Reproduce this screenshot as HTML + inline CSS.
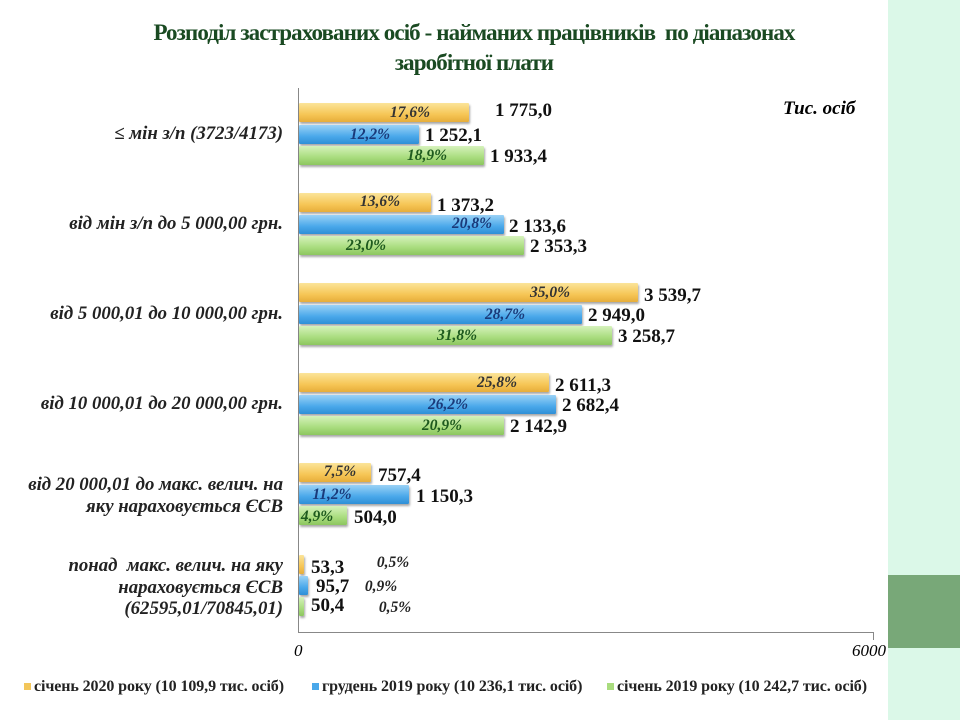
<!DOCTYPE html>
<html><head><meta charset="utf-8"><style>
body{margin:0;width:960px;height:720px;background:#fff;position:relative;overflow:hidden;font-family:"Liberation Serif",serif}
.a{position:absolute;white-space:nowrap}
.bar{position:absolute;height:19px;border-radius:1px;box-shadow:1px 2px 2px rgba(0,0,0,.35)}
.Y{background:linear-gradient(#fbe49a,#f6c656 60%,#e6ad3a)}
.B{background:linear-gradient(#9ad2f6,#4aa8ea 60%,#2f8fd6)}
.G{background:linear-gradient(#d6f2bc,#a9dc7e 60%,#8cc65f)}
.v{position:absolute;font-weight:bold;font-size:19px;color:#111;line-height:19px;white-space:nowrap}
.p{position:absolute;font-weight:bold;font-style:italic;font-size:15.5px;line-height:19px;transform:translateX(-50%);white-space:nowrap}
.c{position:absolute;right:677px;text-align:right;font-weight:bold;font-style:italic;font-size:18.8px;color:#222;line-height:21.5px;white-space:nowrap}
.lg{position:absolute;top:678px;font-weight:bold;font-size:16px;color:#222;white-space:nowrap;letter-spacing:-0.1px}
.sq{display:inline-block;width:7px;height:7px;margin-right:3px;vertical-align:1px}
</style></head><body>
<div class="a" style="left:888px;top:0;width:72px;height:720px;background:#dbf8e8"></div>
<div class="a" style="left:888px;top:575px;width:72px;height:73px;background:#78a878"></div>
<div class="a" style="left:0;width:948px;top:18px;text-align:center;font-weight:bold;font-size:23px;color:#1a4a22;line-height:30px;letter-spacing:-0.9px">Розподіл застрахованих осіб - найманих працівників &nbsp;по діапазонах<br>заробітної плати</div>
<div class="a" style="left:783px;top:98px;font-weight:bold;font-style:italic;font-size:19px">Тис. осіб</div>
<div class="a" style="left:298px;top:88px;width:1px;height:545px;background:#888"></div>
<div class="a" style="left:298px;top:632px;width:576px;height:1px;background:#888"></div>
<div class="a" style="left:873px;top:632px;width:1px;height:8px;background:#888"></div>
<div class="a" style="left:294px;top:641px;font-style:italic;font-size:17px">0</div>
<div class="a" style="left:852px;top:641px;font-style:italic;font-size:17px">6000</div>

<div class="c" style="top:123px">≤ мін з/п (3723/4173)</div>
<div class="c" style="top:213px">від мін з/п до 5 000,00 грн.</div>
<div class="c" style="top:303px">від 5 000,01 до 10 000,00 грн.</div>
<div class="c" style="top:393px">від 10 000,01 до 20 000,00 грн.</div>
<div class="c" style="top:474px">від 20 000,01 до макс. велич. на<br>яку нараховується ЄСВ</div>
<div class="c" style="top:555px">понад &nbsp;макс. велич. на яку<br>нараховується ЄСВ<br>(62595,01/70845,01)</div>

<div class="bar Y" style="left:299px;top:103px;width:170px"></div><div class="p" style="left:410px;top:103px;color:#333">17,6%</div><div class="v" style="left:495px;top:101px">1 775,0</div>
<div class="bar B" style="left:299px;top:125px;width:120px"></div><div class="p" style="left:370px;top:125px;color:#1a3a7a">12,2%</div><div class="v" style="left:425px;top:126px">1 252,1</div>
<div class="bar G" style="left:299px;top:146px;width:185px"></div><div class="p" style="left:427px;top:146px;color:#1e5a1e">18,9%</div><div class="v" style="left:490px;top:147px">1 933,4</div>

<div class="bar Y" style="left:299px;top:193px;width:132px"></div><div class="p" style="left:380px;top:192px;color:#333">13,6%</div><div class="v" style="left:437px;top:196px">1 373,2</div>
<div class="bar B" style="left:299px;top:215px;width:205px"></div><div class="p" style="left:472px;top:214px;color:#1a3a7a">20,8%</div><div class="v" style="left:509px;top:217px">2 133,6</div>
<div class="bar G" style="left:299px;top:236px;width:225px"></div><div class="p" style="left:366px;top:236px;color:#1e5a1e">23,0%</div><div class="v" style="left:530px;top:237px">2 353,3</div>

<div class="bar Y" style="left:299px;top:283px;width:339px"></div><div class="p" style="left:550px;top:283px;color:#333">35,0%</div><div class="v" style="left:644px;top:286px">3 539,7</div>
<div class="bar B" style="left:299px;top:305px;width:283px"></div><div class="p" style="left:505px;top:305px;color:#1a3a7a">28,7%</div><div class="v" style="left:588px;top:306px">2 949,0</div>
<div class="bar G" style="left:299px;top:326px;width:313px"></div><div class="p" style="left:457px;top:326px;color:#1e5a1e">31,8%</div><div class="v" style="left:618px;top:327px">3 258,7</div>

<div class="bar Y" style="left:299px;top:373px;width:250px"></div><div class="p" style="left:497px;top:373px;color:#333">25,8%</div><div class="v" style="left:555px;top:376px">2 611,3</div>
<div class="bar B" style="left:299px;top:395px;width:257px"></div><div class="p" style="left:448px;top:395px;color:#1a3a7a">26,2%</div><div class="v" style="left:562px;top:396px">2 682,4</div>
<div class="bar G" style="left:299px;top:416px;width:205px"></div><div class="p" style="left:442px;top:416px;color:#1e5a1e">20,9%</div><div class="v" style="left:510px;top:417px">2 142,9</div>

<div class="bar Y" style="left:299px;top:463px;width:72px"></div><div class="p" style="left:340px;top:462px;color:#333">7,5%</div><div class="v" style="left:378px;top:466px">757,4</div>
<div class="bar B" style="left:299px;top:485px;width:110px"></div><div class="p" style="left:332px;top:485px;color:#1a3a7a">11,2%</div><div class="v" style="left:416px;top:487px">1 150,3</div>
<div class="bar G" style="left:299px;top:506px;width:48px"></div><div class="p" style="left:317px;top:507px;color:#1e5a1e">4,9%</div><div class="v" style="left:354px;top:508px">504,0</div>

<div class="bar Y" style="left:299px;top:555px;width:5px"></div><div class="p" style="left:393px;top:553px;color:#222">0,5%</div><div class="v" style="left:311px;top:558px">53,3</div>
<div class="bar B" style="left:299px;top:576px;width:9px"></div><div class="p" style="left:381px;top:577px;color:#222">0,9%</div><div class="v" style="left:316px;top:577px">95,7</div>
<div class="bar G" style="left:299px;top:597px;width:5px"></div><div class="p" style="left:395px;top:598px;color:#222">0,5%</div><div class="v" style="left:311px;top:596px">50,4</div>

<div class="lg" style="left:24px"><span class="sq" style="background:#f3c65a"></span>січень 2020 року (10 109,9 тис. осіб)</div>
<div class="lg" style="left:312px"><span class="sq" style="background:#4aa8ea"></span>грудень 2019 року (10 236,1 тис. осіб)</div>
<div class="lg" style="left:607px"><span class="sq" style="background:#a9dc7e"></span>січень 2019 року (10 242,7 тис. осіб)</div>
</body></html>
